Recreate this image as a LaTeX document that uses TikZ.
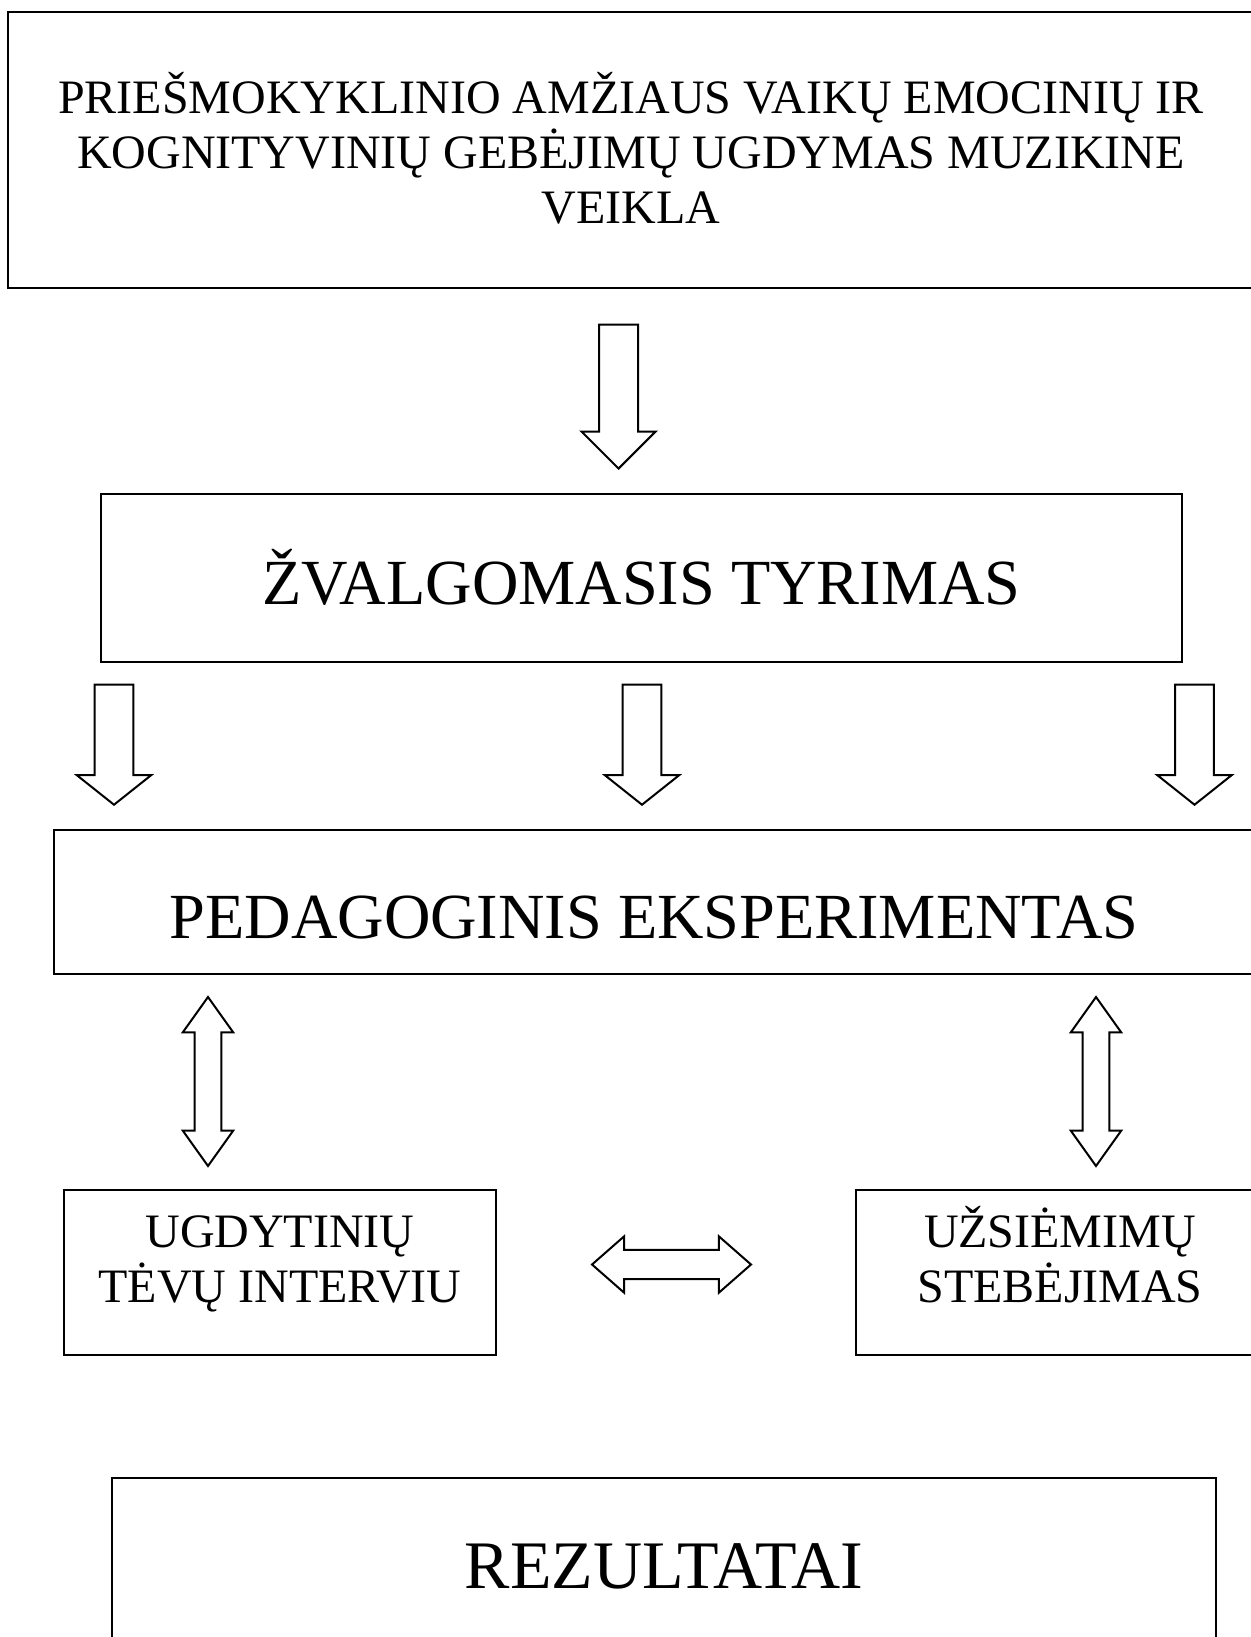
\documentclass[tikz,border=0pt]{standalone}
\usepackage{fontspec}
\setmainfont{Liberation Serif}
\usetikzlibrary{shapes.arrows}

\begin{document}
\begin{tikzpicture}[x=0.3pt,y=-0.3pt]
\tikzset{
box/.style={ rectangle , draw=black , line width=0.6pt ,
inner xsep=0pt , inner ysep=0pt , align=center },
smalltext/.style={ font=\fontsize{14.4pt}{16.5pt}\selectfont },
bigtext/.style={ font=\fontsize{19.3pt}{23pt}\selectfont },
downarrow/.style={ single arrow , draw=black , line width=0.6pt ,
shape border rotate=270 , anchor=tip },
twoway/.style={ double arrow , draw=black , line width=0.6pt }
}
\useasboundingbox (0,0) rectangle (1251,1637);
\clip (0,0) rectangle (1251,1637);

% boxes
\node[box,smalltext,minimum width=373.8pt,text height=63.3pt,text depth=19.5pt]
  (aim) at (631,150)
  {PRIEŠMOKYKLINIO AMŽIAUS VAIKŲ EMOCINIŲ IR\\
   KOGNITYVINIŲ GEBĖJIMŲ UGDYMAS MUZIKINE\\VEIKLA};
\node[box,bigtext,minimum width=324.3pt,text height=33.2pt,text depth=17.2pt]
  (probe) at (641.5,578) {ŽVALGOMASIS TYRIMAS};
\node[box,bigtext,minimum width=360pt,text height=32.5pt,text depth=10.56pt]
  (exper) at (654,901.75) {PEDAGOGINIS EKSPERIMENTAS};
\node[box,smalltext,minimum width=129.6pt,text height=33.6pt,text depth=15.9pt]
  (parents) at (280,1272.5) {UGDYTINIŲ\\TĖVŲ INTERVIU};
\node[box,smalltext,minimum width=122.4pt,text height=33.6pt,text depth=15.9pt]
  (observe) at (1060,1272.5) {UŽSIĖMIMŲ\\STEBĖJIMAS};
\node[box,bigtext,font=\fontsize{20.4pt}{24pt}\selectfont,
  minimum width=331.2pt,text height=33pt,text depth=19.2pt]
  (result) at (664,1565) {REZULTATAI};

% block arrows
\node[downarrow,minimum height=43.2pt,inner sep=5.55pt,
  single arrow head extend=5.25pt,single arrow tip angle=90]
  (a1) at (618.5,470) {};
\foreach \x/\n in {114/left,642/mid,1194.5/right}
  \node[downarrow,minimum height=36pt,inner sep=5.48pt,
    single arrow head extend=5.42pt,single arrow tip angle=103]
    (a-\n) at (\x,806) {};
\foreach \x/\n in {208/left,1096/right}
  \node[twoway,shape border rotate=90,minimum height=50.7pt,inner sep=3.68pt,
    double arrow head extend=3.6pt,double arrow tip angle=71]
    (b-\n) at (\x,1081.5) {};
\node[twoway,minimum height=47.7pt,inner sep=4.1pt,
  double arrow head extend=4.05pt,double arrow tip angle=82.5]
  (c) at (671.5,1264.5) {};

\end{tikzpicture}
\end{document}
